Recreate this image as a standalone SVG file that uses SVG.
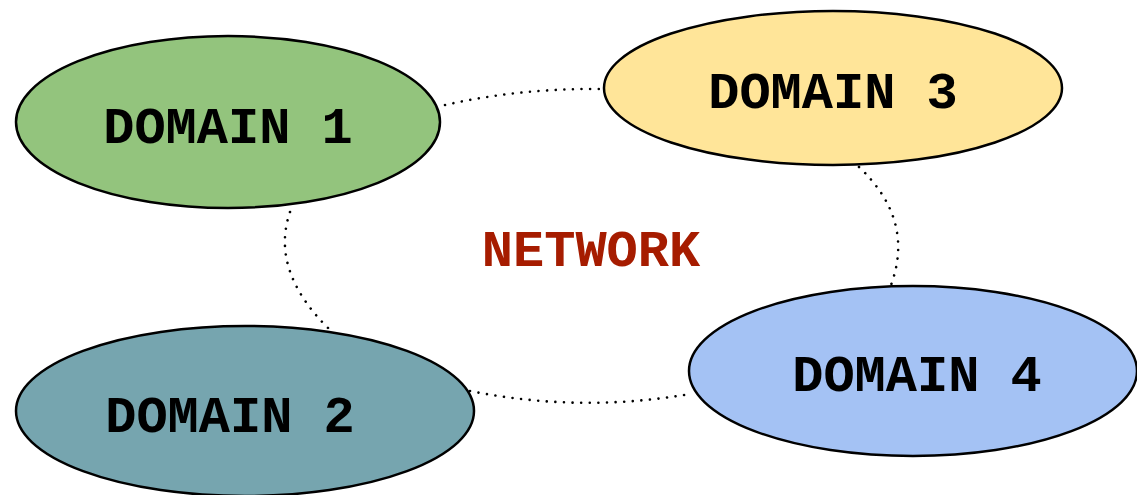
<svg xmlns="http://www.w3.org/2000/svg" width="1137" height="495" viewBox="0 0 1137 495">
<style>
.n{stroke:#000;stroke-width:2.5}
.t{font-family:"Liberation Mono","Courier New",monospace;font-weight:bold;font-size:52px;text-anchor:middle}
.c{fill:none;stroke:#000;stroke-width:2.6;stroke-dasharray:0.01 8.6;stroke-linecap:round}
</style>
<rect width="1137" height="495" fill="#fff"/>
<g id="connectors">
<path class="c" d="M445,105 Q520,88 603,89"/>
<path class="c" d="M290,212 Q270,270 328,328"/>
<path class="c" d="M859,167 Q915,220 891,285"/>
<path class="c" d="M470,391 Q580,413 690,394"/>
</g>
<g id="network"><text class="t" x="591" y="266" fill="#a61c00">NETWORK</text></g>
<g id="domain1"><ellipse class="n" cx="228" cy="122" rx="212" ry="86" fill="#93c47d"/><text class="t" x="228" y="143">DOMAIN 1</text></g>
<g id="domain3"><ellipse class="n" cx="833" cy="88" rx="229" ry="77" fill="#ffe599"/><text class="t" x="833" y="108">DOMAIN 3</text></g>
<g id="domain2"><ellipse class="n" cx="245" cy="411" rx="229" ry="85" fill="#76a5af"/><text class="t" x="230" y="432">DOMAIN 2</text></g>
<g id="domain4"><ellipse class="n" cx="913" cy="371" rx="224" ry="85" fill="#a4c2f4"/><text class="t" x="917" y="391">DOMAIN 4</text></g>
</svg>
